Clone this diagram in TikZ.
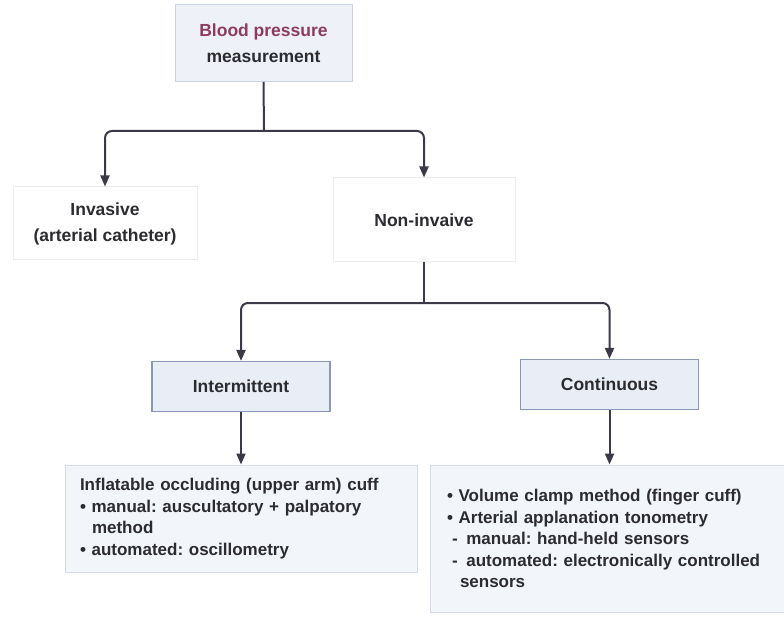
\documentclass[tikz,border=0pt]{standalone}
\usepackage{fontspec}
\setmainfont{Liberation Sans}
\usetikzlibrary{arrows.meta}
\frenchspacing
\definecolor{linec}{HTML}{3A3A46}
\definecolor{txt}{HTML}{2B2B30}
\definecolor{maroon}{HTML}{8E3C5E}
\definecolor{topfill}{HTML}{EEF2F8}
\definecolor{topdraw}{HTML}{C9D3E3}
\definecolor{midfill}{HTML}{E9EEF6}
\definecolor{middraw}{HTML}{8D97B9}
\definecolor{botfill}{HTML}{F2F5F9}
\definecolor{botdraw}{HTML}{D6DBE3}
\definecolor{faintdraw}{HTML}{ECECEC}
\tikzset{
  hdr/.style={font=\fontsize{17.5}{26}\selectfont\bfseries, text=txt, align=center},
  topbox/.style={hdr, draw=topdraw, fill=topfill, line width=1pt, minimum width=177pt, minimum height=77pt},
  plainbox/.style={hdr, draw=faintdraw, fill=white, line width=1pt},
  midbox/.style={hdr, draw=middraw, fill=midfill, line width=1.2pt, minimum width=178pt, minimum height=50pt},
  botbox/.style={font=\fontsize{17}{21.5}\selectfont\bfseries, text=txt, align=left, draw=botdraw, fill=botfill, line width=1pt},
  conn/.style={draw=linec, line width=2pt, rounded corners=7pt},
  arr/.style={conn, -{Triangle[length=11pt,width=9pt]}}
}
\begin{document}
\begin{tikzpicture}[x=1pt,y=-1pt]
\useasboundingbox (0,0) rectangle (784,620);
\node[topbox] (top) at (263.5,43) {\textcolor{maroon}{Blood pressure}\\measurement};
\node[plainbox, minimum width=184pt, minimum height=73pt] (inv) at (105,223.5) {Invasive\\(arterial catheter)};
\node[plainbox, minimum width=182pt, minimum height=84pt] (noninv) at (424,220) {Non-invaive};
\node[midbox] (inter) at (241,386.5) {Intermittent};
\node[midbox] (cont) at (609.5,384.5) {Continuous};
\node[botbox, minimum width=352pt, minimum height=107pt, text width=322pt, inner xsep=15pt] (lb) at (241,518.5)
  {Inflatable occluding (upper arm) cuff\\
   • manual: auscultatory + palpatory\\
   \hspace*{12pt}method\\
   • automated: oscillometry};
\node[botbox, minimum width=356pt, minimum height=147pt, text width=322pt, inner xsep=17pt] (rb) at (608,538.5)
  {• Volume clamp method (finger cuff)\\
   • Arterial applanation tonometry\\
   \hspace*{5pt}- \hspace*{3pt}manual: hand-held sensors\\
   \hspace*{5pt}- \hspace*{3pt}automated: electronically controlled\\
   \hspace*{13pt}sensors};
\coordinate (j1) at (264,131);
\coordinate (j2) at (424,303);
\draw[conn] (top.south) -- (j1);
\draw[arr] (j1) -| (inv.north);
\draw[arr] (j1) -| (noninv.north);
\draw[conn] (noninv.south) -- (j2);
\draw[arr] (j2) -| (inter.north);
\draw[arr] (j2) -| (cont.north);
\draw[arr] (inter.south) -- (inter.south |- lb.north);
\draw[arr] (cont.south) -- (cont.south |- rb.north);
\end{tikzpicture}
\end{document}
